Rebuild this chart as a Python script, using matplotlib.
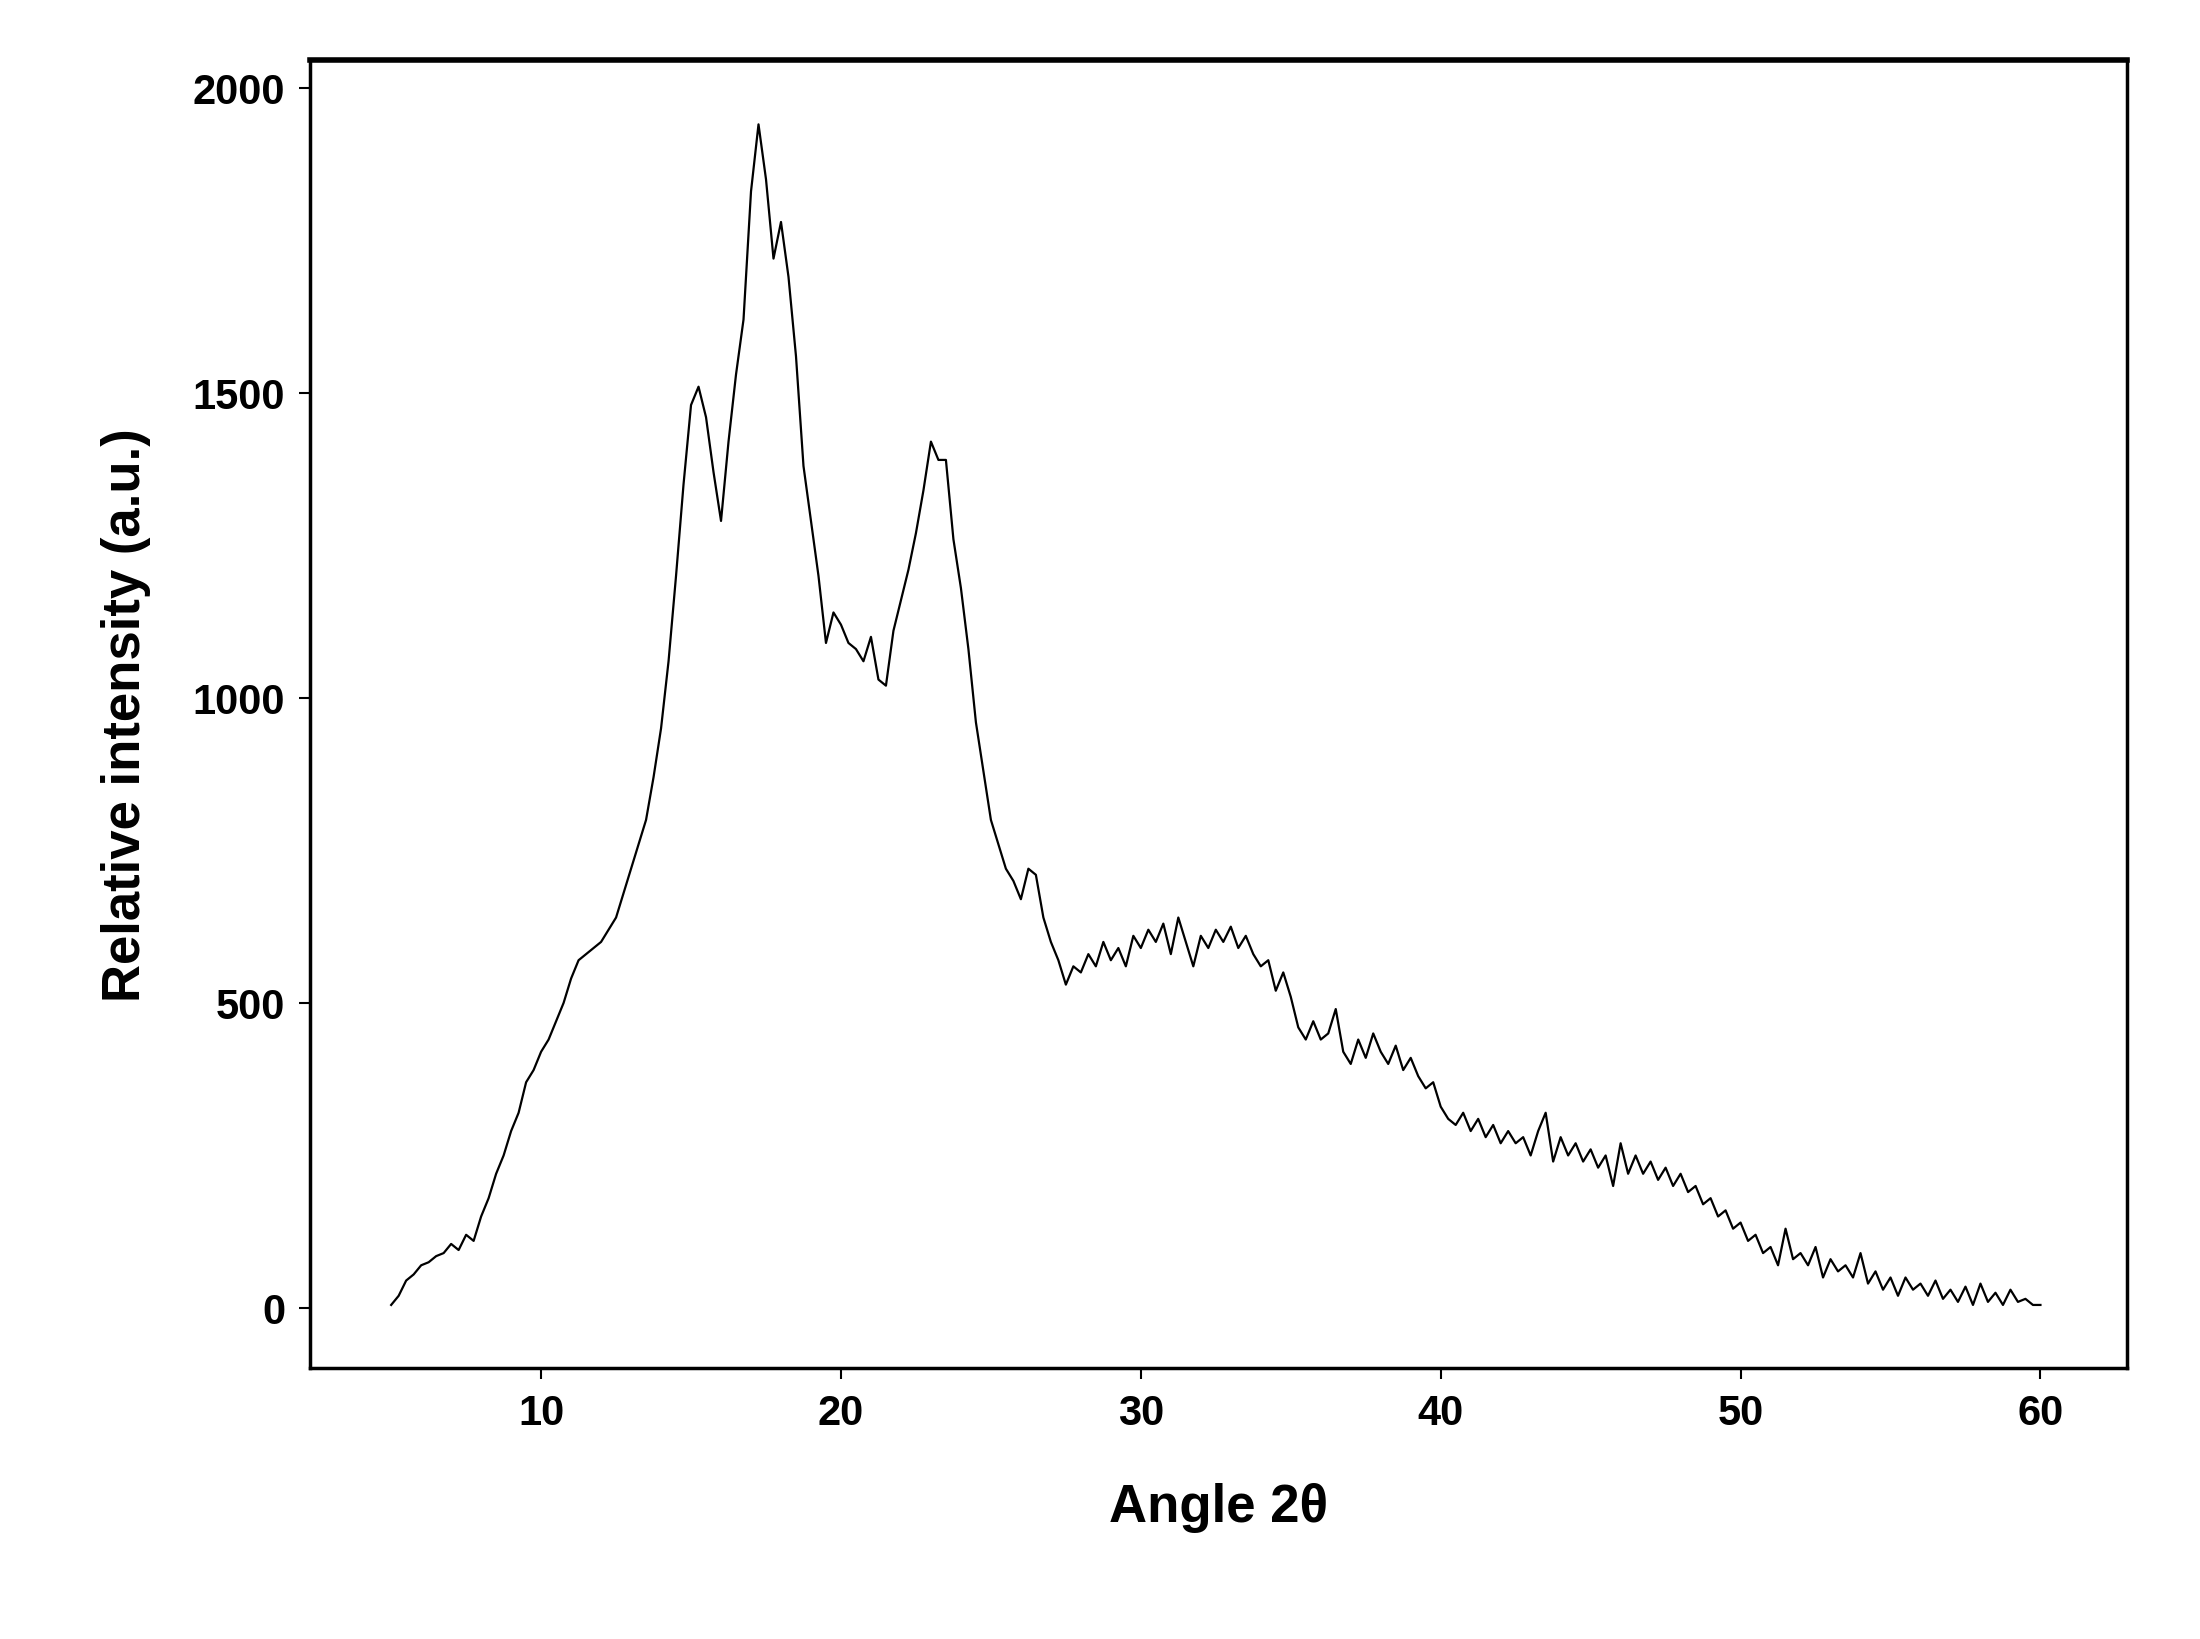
import numpy as np
import matplotlib
matplotlib.use("Agg")
import matplotlib.pyplot as plt

intensity = [5,20,45,55,70,75,85,90,105,95,120,110,150,180,220,250,290,320,370,390,
420,440,470,500,540,570,580,590,600,620,640,680,720,760,800,870,950,1060,1200,1350,
1480,1510,1460,1370,1290,1420,1530,1620,1830,1940,1850,1720,1780,1690,1560,1380,1290,1200,1090,1140,
1120,1090,1080,1060,1100,1030,1020,1110,1160,1210,1270,1340,1420,1390,1390,1260,1180,1080,960,880,
800,760,720,700,670,720,710,640,600,570,530,560,550,580,560,600,570,590,560,610,
590,620,600,630,580,640,600,560,610,590,620,600,625,590,610,580,560,570,520,550,
510,460,440,470,440,450,490,420,400,440,410,450,420,400,430,390,410,380,360,370,
330,310,300,320,290,310,280,300,270,290,270,280,250,290,320,240,280,250,270,240,
260,230,250,200,270,220,250,220,240,210,230,200,220,190,200,170,180,150,160,130,
140,110,120,90,100,70,130,80,90,70,100,50,80,60,70,50,90,40,60,30,
50,20,50,30,40,20,45,15,30,10,35,5,40,10,25,5,30,10,15,5,5]
angle = 5 + 0.25 * np.arange(len(intensity))

plt.rcParams['font.family'] = ['Liberation Sans', 'DejaVu Sans']
fig = plt.figure(figsize=(22, 16.4), dpi=100)
ax = fig.add_axes([0.141, 0.165, 0.826, 0.798])
ax.plot(angle, intensity, color='black', lw=1.6)
ax.set_xlim(2.3, 62.9)
ax.set_ylim(-99, 2046)
ax.set_xticks([10, 20, 30, 40, 50, 60])
ax.set_yticks([0, 500, 1000, 1500, 2000])
ax.tick_params(direction='out', length=8, width=1.5, labelsize=30, pad=10)
for lab in ax.get_xticklabels() + ax.get_yticklabels():
    lab.set_fontweight('bold')
for s in ['left', 'bottom', 'right']:
    ax.spines[s].set_linewidth(2.5)
ax.spines['top'].set_linewidth(4)
ax.set_xlabel('Angle 2θ', fontsize=38, fontweight='bold', labelpad=35)
ax.set_ylabel('Relative intensity (a.u.)', fontsize=38, fontweight='bold', labelpad=30)
fig.savefig('out.png', dpi=100)
